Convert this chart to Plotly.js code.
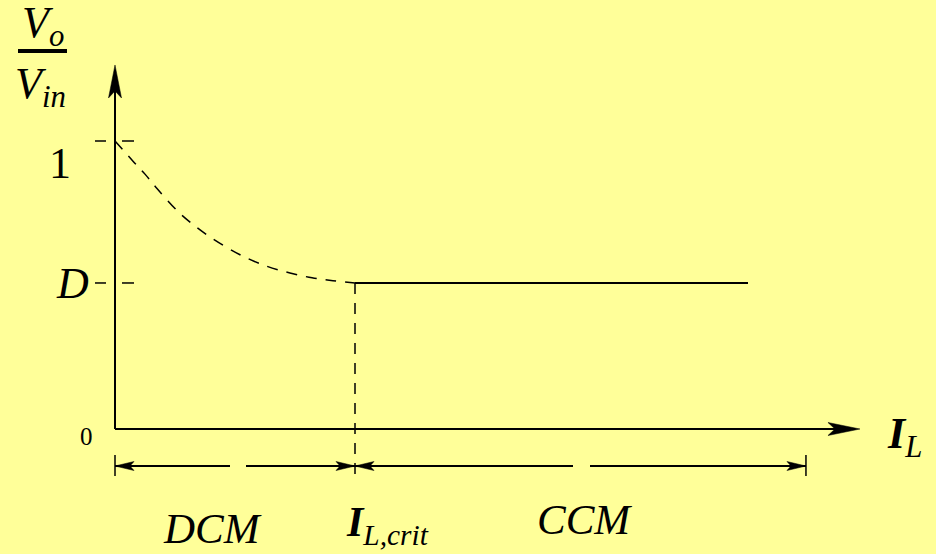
<!DOCTYPE html>
<html><head><meta charset="utf-8">
<script src="https://cdn.plot.ly/plotly-3.0.1.min.js"></script>
<style>html,body{margin:0;padding:0;background:#FFFF99;}</style>
</head><body>
<div id="chart" style="width:936px;height:554px;"></div>
<script>
// ---- data (x in units of I_L,crit, y in units of Vin) ----
const curveX = [0, 0.075, 0.125, 0.175, 0.2625, 0.333, 0.408, 0.521, 0.633, 0.729, 0.821, 0.908, 1.0];
const curveY = [1.0, 0.93, 0.885, 0.835, 0.755, 0.705, 0.66, 0.605, 0.565, 0.542, 0.525, 0.515, 0.507];
const D = 0.507;
const ILcrit = 1.0;
const ccmLineEnd = 2.6375;
const xAxisEnd = 3.104;
const yAxisEnd = 1.264;
const ccmDimEnd = 2.879;
const yTickVals = [1, D];
const yTickLabels = ['1', '<i>D</i>'];

// ---- pixel scale helpers (layout) ----
const X0 = 115, SX = 240, Y0 = 429, SY = 288;
const px2x = p => (p - X0) / SX;
const py2y = p => (Y0 - p) / SY;
const dimY = py2y(466), tickTop = py2y(455), tickBot = py2y(476);

function arrowHead(tx, ty, ux, uy, L, W, N) {
  const nx = -uy, ny = ux;
  const pts = [
    [0, 0],
    [-ux * L + nx * W, -uy * L + ny * W],
    [-ux * (L - N), -uy * (L - N)],
    [-ux * L - nx * W, -uy * L - ny * W],
    [0, 0]
  ];
  return {
    x: pts.map(p => tx + p[0] / SX), y: pts.map(p => ty + p[1] / SY),
    type: 'scatter', mode: 'lines', fill: 'toself', fillcolor: '#000',
    line: {width: 0.5, color: '#000'}, hoverinfo: 'skip', showlegend: false
  };
}
function seg(xs, ys, w, dash) {
  return {x: xs, y: ys, type: 'scatter', mode: 'lines',
    line: {color: '#000', width: w, dash: dash || 'solid'}, hoverinfo: 'skip', showlegend: false};
}

const traces = [];
traces.push(seg([0, xAxisEnd - 20 / SX], [0, 0], 2));
traces.push(seg([0, 0], [0, yAxisEnd - 20 / SY], 2));
traces.push(arrowHead(xAxisEnd, 0, 1, 0, 32, 6.5, 7));
traces.push(arrowHead(0, yAxisEnd, 0, 1, 33, 6.5, 7));
yTickVals.forEach(v => {
  traces.push(seg([px2x(95), px2x(106)], [v, v], 1.5));
  traces.push(seg([px2x(122), px2x(134)], [v, v], 1.5));
});
traces.push({x: curveX, y: curveY, type: 'scatter', mode: 'lines',
  line: {color: '#000', width: 1.5, dash: '11px,9px', shape: 'spline', smoothing: 1},
  hoverinfo: 'skip', showlegend: false});
traces.push(seg([ILcrit, ccmLineEnd], [D, D], 2));
traces.push(seg([ILcrit, ILcrit], [D, tickBot], 1.5, '11px,9px'));
traces.push(seg([0, px2x(230)], [dimY, dimY], 2));
traces.push(seg([px2x(246), ILcrit], [dimY, dimY], 2));
traces.push(seg([ILcrit, px2x(573)], [dimY, dimY], 2));
traces.push(seg([px2x(590), ccmDimEnd], [dimY, dimY], 2));
[0, ccmDimEnd].forEach(v => traces.push(seg([v, v], [tickTop, tickBot], 1.5)));
traces.push(arrowHead(0, dimY, -1, 0, 19, 4.5, 4));
traces.push(arrowHead(ILcrit, dimY, 1, 0, 19, 4.5, 4));
traces.push(arrowHead(ILcrit, dimY, -1, 0, 19, 4.5, 4));
traces.push(arrowHead(ccmDimEnd, dimY, 1, 0, 19, 4.5, 4));

const font = 'Liberation Serif, Times New Roman, serif';
function txt(px, py, text, size) {
  return {x: px2x(px), y: py2y(py), xref: 'x', yref: 'y', text: text,
    showarrow: false, xanchor: 'center', yanchor: 'middle',
    font: {family: font, size: size, color: '#000'}};
}
const annotations = [
  txt(60, 163, yTickLabels[0], 44),
  txt(72, 283, yTickLabels[1], 44),
  txt(86, 436, '0', 25),
  txt(43, 25, '<i>V</i><sub><i>o</i></sub>', 44),
  txt(40, 86, '<i>V</i><sub><i>in</i></sub>', 44),
  txt(904, 436, '<b><i>I</i></b><sub><i>L</i></sub>', 44),
  txt(212, 528, '<i>DCM</i>', 43),
  txt(387, 525, '<b><i>I</i></b><sub><i>L,crit</i></sub>', 42),
  txt(584, 519, '<i>CCM</i>', 43)
];
const shapes = [
  {type: 'line', xref: 'x', yref: 'y', x0: px2x(18), x1: px2x(67), y0: py2y(51), y1: py2y(51),
   line: {color: '#000', width: 4}}
];

Plotly.newPlot('chart', traces, {
  width: 936, height: 554,
  margin: {l: 0, r: 0, t: 0, b: 0},
  paper_bgcolor: '#FFFF99', plot_bgcolor: '#FFFF99',
  xaxis: {range: [px2x(0), px2x(936)], visible: false, fixedrange: true},
  yaxis: {range: [py2y(554), py2y(0)], visible: false, fixedrange: true},
  annotations: annotations, shapes: shapes, showlegend: false
}, {staticPlot: true});
</script>
</body></html>
